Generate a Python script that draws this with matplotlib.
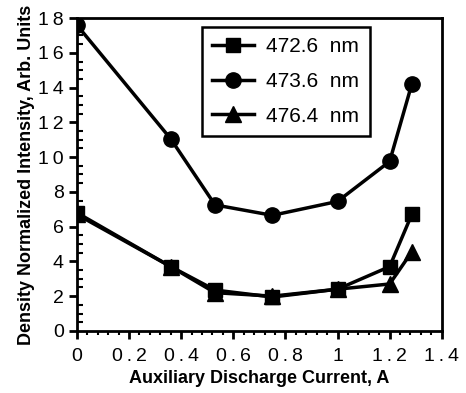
import matplotlib
matplotlib.use('Agg')
import matplotlib.pyplot as plt
from matplotlib.ticker import MultipleLocator

# data
current = [0, 0.36, 0.53, 0.75, 1.0, 1.2, 1.285]
i_4726 = [6.8, 3.7, 2.35, 1.95, 2.4, 3.7, 6.7]
i_4736 = [17.6, 11.05, 7.25, 6.65, 7.45, 9.75, 14.2]
i_4764 = [6.7, 3.7, 2.2, 2.0, 2.4, 2.7, 4.55]
labels = ["472.6  nm", "473.6  nm", "476.4  nm"]
xticks = [0, 0.2, 0.4, 0.6, 0.8, 1.0, 1.2, 1.4]
yticks = [0, 2, 4, 6, 8, 10, 12, 14, 16, 18]

plt.rcParams['font.family'] = ['Liberation Sans', 'DejaVu Sans']

TS = "\u2009"  # spread digits a bit like the original typesetting


def spaced(v):
    s = f"{v:g}"
    return TS.join(s)


fig = plt.figure(figsize=(4.66, 3.93), dpi=100)
ax = fig.add_axes([0.165, 0.158, 0.783, 0.796])

ax.plot(current, i_4726, '-s', color='black', lw=2.5, ms=10, label=labels[0])
ax.plot(current, i_4736, '-o', color='black', lw=2.5, ms=11, label=labels[1])
ax.plot(current, i_4764, '-^', color='black', lw=2.5, ms=11, label=labels[2])

ax.set_xlim(0, 1.4)
ax.set_ylim(0, 18)
ax.set_xticks(xticks)
ax.set_xticklabels([spaced(v) for v in xticks])
ax.set_yticks(yticks)
ax.set_yticklabels([spaced(v) for v in yticks])
ax.xaxis.set_minor_locator(MultipleLocator(0.04))
ax.yaxis.set_minor_locator(MultipleLocator(0.5))

ax.tick_params(which='major', direction='out', length=6, width=2, labelsize=14)
ax.tick_params(which='minor', direction='out', length=3, width=1.5)
ax.tick_params(axis='y', which='minor', direction='in', length=4)
ax.tick_params(axis='x', which='major', pad=6)
for s in ax.spines.values():
    s.set_linewidth(2)

ax.set_xlabel("Auxiliary Discharge Current, A", fontsize=13, fontweight='heavy',
              labelpad=4)
ax.set_ylabel("Density Normalized Intensity, Arb. Units", fontsize=13, fontweight='heavy',
              labelpad=2)

leg = ax.legend(loc='upper left', bbox_to_anchor=(0.342, 0.972), fontsize=15,
                frameon=True, fancybox=False, edgecolor='black', framealpha=1,
                handlelength=2.0, handletextpad=0.6, borderpad=0.5,
                labelspacing=0.75, borderaxespad=0)
leg.get_frame().set_linewidth(1.8)

fig.savefig("out.png", dpi=100)
